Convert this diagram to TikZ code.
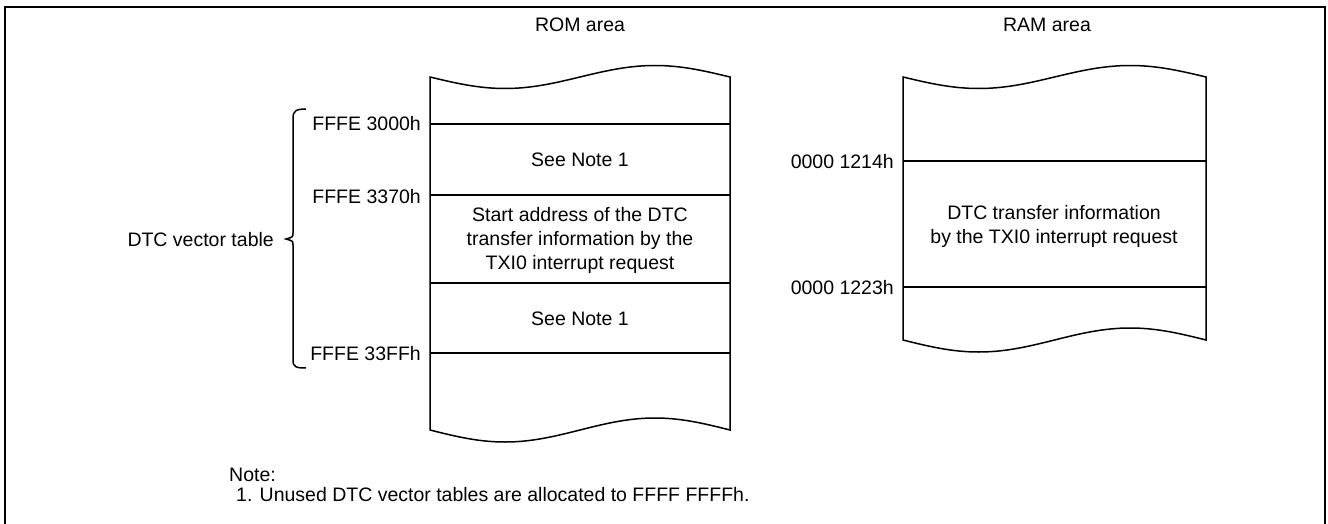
\documentclass[tikz,border=0pt]{standalone}
\usepackage{fontspec}
\setmainfont{Liberation Sans}
\begin{document}
\begin{tikzpicture}[x=1pt,y=-1pt,
  txt/.style={font=\fontsize{19.5}{24}\selectfont, inner sep=0pt, text height=14pt, text depth=0pt},
  mtxt/.style={font=\fontsize{19.5}{24}\selectfont, inner sep=0pt, align=center},
  box/.style={line width=1.5pt, line join=miter},
  frame/.style={line width=2pt}]
\useasboundingbox (0,0) rectangle (1328,524);
% outer frame (open at the bottom)
\draw[frame] (5,524) -- (5,7) -- (1325,7) -- (1325,524);

% titles
\node[txt] (romtitle) at (580,25) {ROM area};
\node[txt] (ramtitle) at (1047,25) {RAM area};

% ROM box
\draw[box] plot[domain=0:300,samples=61,smooth] ({430+\x},{77+11.5*sin(1.2*\x)})
  -- plot[domain=300:0,samples=61,smooth] ({430+\x},{430+12*sin(1.2*\x)}) -- cycle;
\draw[box] (430,124) -- (730,124);
\draw[box] (430,195) -- (730,195);
\draw[box] (430,283) -- (730,283);
\draw[box] (430,353) -- (730,353);

\node[txt] (note1a) at (580,159) {See Note 1};
\node[mtxt] (start) at (580,240) {Start address of the DTC\\transfer information by the\\TXI0 interrupt request};
\node[txt] (note1b) at (580,318) {See Note 1};

% ROM addresses
\node[txt, anchor=east] (a1) at (421,124) {FFFE 3000h};
\node[txt, anchor=east] (a2) at (421,196) {FFFE 3370h};
\node[txt, anchor=east] (a3) at (421,353) {FFFE 33FFh};

% brace
\coordinate (bracetip) at (286,239);
\draw[box] (306,109) .. controls (296,109) and (293,111) .. (293,118) -- (293,233)
  .. controls (293,237) .. (bracetip) .. controls (293,241) .. (293,245) -- (293,360)
  .. controls (293,367) and (296,368) .. (306,368);
\node[txt, anchor=east] (dtc) at (274,239) {DTC vector table};

% RAM box
\draw[box] plot[domain=0:303,samples=61,smooth] ({903+\x},{77+11.5*sin(1.188*\x)})
  -- plot[domain=303:0,samples=61,smooth] ({903+\x},{340+12*sin(1.188*\x)}) -- cycle;
\draw[box] (903,161) -- (1206,161);
\draw[box] (903,287) -- (1206,287);
\node[mtxt] (dtcinfo) at (1054,226) {DTC transfer information\\by the TXI0 interrupt request};

\node[txt, anchor=east] (b1) at (894,161) {0000 1214h};
\node[txt, anchor=east] (b2) at (894,287) {0000 1223h};

% note
\node[txt, anchor=west] (note) at (229,474) {Note:};
\node[txt, anchor=west] (notetext) at (236,494) {1. Unused DTC vector tables are allocated to FFFF FFFFh.};
\end{tikzpicture}
\end{document}
